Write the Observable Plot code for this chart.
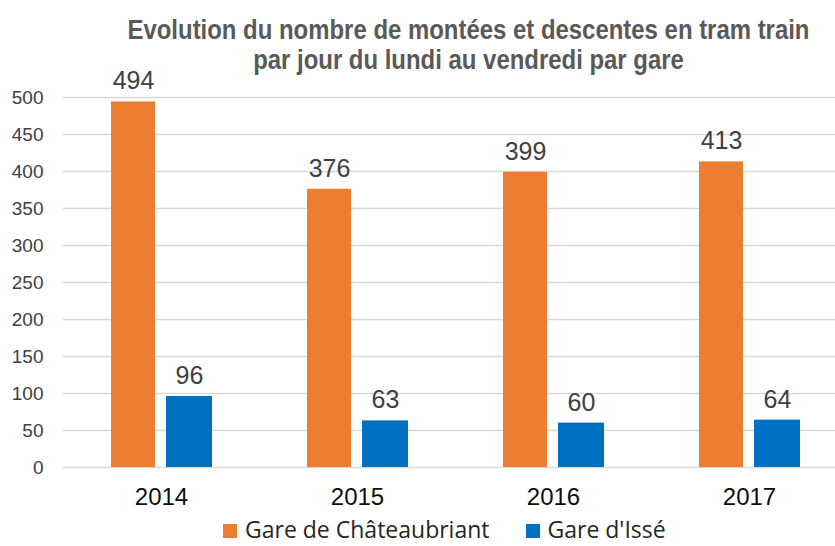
<!DOCTYPE html>
<html><head><meta charset="utf-8">
<script src="https://cdn.jsdelivr.net/npm/d3@7"></script>
<script src="https://cdn.jsdelivr.net/npm/@observablehq/plot@0.6"></script>
<style>
html,body{margin:0;padding:0;background:#fff;}
#wrap{position:relative;width:835px;height:546px;overflow:hidden;}
#title{position:absolute;left:0;width:835px;top:15px;
 font-family:"Liberation Sans",Arial,sans-serif;font-weight:bold;font-size:28px;line-height:30px;color:#595959;}
#title div{white-space:nowrap;text-align:center;width:835px;transform-origin:50% 50%;}
#legend{position:absolute;left:223px;top:517px;display:flex;gap:36px;
 font-family:"Open Sans","Noto Sans",sans-serif;font-size:23px;color:#262626;line-height:24px;white-space:nowrap;}
#legend span.sw{display:inline-block;width:14px;height:14px;margin-right:8px;vertical-align:baseline;}
svg{position:absolute;left:0;top:0;}
</style>
</head><body>
<div id="wrap">
<div id="chart"></div>
<div id="title"><div id="t1"><span>Evolution du nombre de montées et descentes en tram train</span></div><div id="t2"><span>par jour du lundi au vendredi par gare</span></div></div>
<div id="legend"></div>
</div>
<script>
const years = ["2014", "2015", "2016", "2017"];
const chateaubriant = [494, 376, 399, 413];
const isse = [96, 63, 60, 64];
const seriesNames = ["Gare de Châteaubriant", "Gare d'Issé"];
const seriesColors = ["#ED7D31", "#0070C0"];
const yTicks = [0, 50, 100, 150, 200, 250, 300, 350, 400, 450, 500];

const dataA = years.map((y, i) => ({year: y, value: chateaubriant[i]}));
const dataB = years.map((y, i) => ({year: y, value: isse[i]}));

const font = '"Liberation Sans",Arial,sans-serif';
const chart = Plot.plot({
  width: 835, height: 546,
  marginTop: 97, marginBottom: 79, marginLeft: 63, marginRight: 0,
  style: {fontFamily: font, background: "transparent", overflow: "visible"},
  x: {type: "band", domain: years, range: [63, 847], padding: 0},
  y: {domain: [0, 500]},
  marks: [
    Plot.gridY(yTicks, {stroke: "#d9d9d9", strokeOpacity: 1, strokeWidth: 1.3}),
    Plot.axisY(yTicks, {tickSize: 0, tickPadding: 20, fontSize: 19, fill: "#404040", label: null}),
    Plot.axisX({tickSize: 0, tickPadding: 20, fontSize: 24, fill: "#0d0d0d", label: null}),
    Plot.barY(dataA, {x: "year", y: "value", fill: seriesColors[0], insetLeft: 48, insetRight: 104}),
    Plot.barY(dataB, {x: "year", y: "value", fill: seriesColors[1], insetLeft: 103, insetRight: 47}),
    Plot.text(dataA, {x: "year", y: "value", text: d => String(d.value), dx: -28, dy: -12.5, lineAnchor: "bottom", fontSize: 25, fill: "#404040"}),
    Plot.text(dataB, {x: "year", y: "value", text: d => String(d.value), dx: 28, dy: -12.5, lineAnchor: "bottom", fontSize: 25, fill: "#404040"})
  ]
});
document.getElementById("chart").appendChild(chart);

// condense the title to match the narrow typeface of the reference
const s1 = document.querySelector("#t1 span");
const w1 = s1.getBoundingClientRect().width;
const sc = 682 / w1;
["t1", "t2"].forEach(id => {
  document.getElementById(id).style.transform = `translateX(51px) scaleX(${sc})`;
});

const leg = document.getElementById("legend");
seriesNames.forEach((n, i) => {
  const d = document.createElement("div");
  d.innerHTML = `<span class="sw" style="background:${seriesColors[i]}"></span>${n}`;
  leg.appendChild(d);
});
</script>
</body></html>
